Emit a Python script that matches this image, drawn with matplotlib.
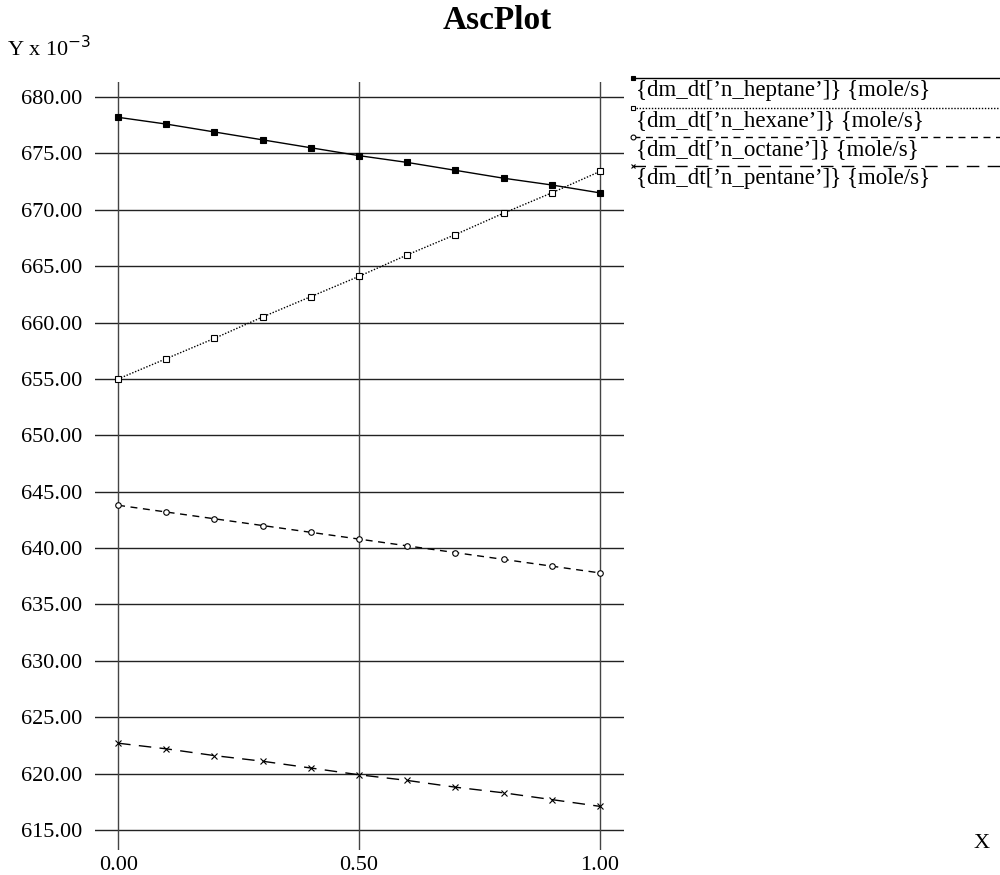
import matplotlib
matplotlib.use("Agg")
import matplotlib.pyplot as plt
from matplotlib.lines import Line2D

plt.rcParams['font.family'] = ['Liberation Serif', 'DejaVu Serif']

x = [0.0, 0.1, 0.2, 0.3, 0.4, 0.5, 0.6, 0.7, 0.8, 0.9, 1.0]
heptane = [678.2, 677.6, 676.9, 676.2, 675.5, 674.8, 674.2, 673.5, 672.8, 672.2, 671.5]
hexane = [655.0, 656.8, 658.6, 660.5, 662.3, 664.1, 666.0, 667.8, 669.7, 671.5, 673.4]
octane = [643.8, 643.2, 642.6, 642.0, 641.4, 640.8, 640.2, 639.6, 639.0, 638.4, 637.8]
pentane = [622.7, 622.2, 621.6, 621.1, 620.5, 619.9, 619.4, 618.8, 618.3, 617.7, 617.1]
names = ["{dm_dt[\u2019n_heptane\u2019]} {mole/s}", "{dm_dt[\u2019n_hexane\u2019]} {mole/s}",
         "{dm_dt[\u2019n_octane\u2019]} {mole/s}", "{dm_dt[\u2019n_pentane\u2019]} {mole/s}"]
xticks = [0.0, 0.5, 1.0]
xticklabels = ["0.00", "0.50", "1.00"]
yticks = [615, 620, 625, 630, 635, 640, 645, 650, 655, 660, 665, 670, 675, 680]

fig = plt.figure(figsize=(10, 8.75), dpi=100)
ax = fig.add_axes([0.095, 0.02857, 0.529, 0.8777])
ax.set_xlim(-0.048, 1.05)
ax.set_ylim(613.23, 681.33)
for s in ax.spines.values():
    s.set_visible(False)
for yv in yticks:
    ax.axhline(yv, color='#222222', lw=1.0, zorder=1)
for xv in xticks:
    ax.axvline(xv, color='#444444', lw=1.0, zorder=1)
ax.set_xticks(xticks)
ax.set_xticklabels(xticklabels)
ax.set_yticks(yticks)
ax.set_yticklabels([f"{v:.2f}" for v in yticks])
ax.tick_params(axis='both', length=0, labelsize=16)
ax.tick_params(axis='y', pad=9.5)
ax.tick_params(axis='x', pad=4)

styles = [
    dict(ls='-', marker='s', ms=4, mfc='black'),
    dict(ls=(0, (1, 1.2)), marker='s', ms=4, mfc='white'),
    dict(ls=(0, (5, 4)), marker='o', ms=4, mfc='white'),
    dict(ls=(0, (9, 6)), marker='x', ms=4, mfc='white'),
]
series = [heptane, hexane, octane, pentane]
for ys, st in zip(series, styles):
    ax.plot(x, ys, color='black', lw=1.0, mec='black', mew=0.8, zorder=3, **st)

fig.text(0.497, 0.977, "AscPlot", ha='center', va='center', fontsize=24, fontweight='bold')
fig.text(0.007, 0.944, r"Y x 10$^{-3}$", ha='left', va='center', fontsize=16)
fig.text(0.99, 0.036, "X", ha='right', va='center', fontsize=16)

leg_y = [78, 108, 137, 166]
for name, st, ly in zip(names, styles, leg_y):
    yf = 1 - ly / 875
    fig.add_artist(Line2D([0.633, 1.0], [yf, yf], transform=fig.transFigure, color='black',
                          lw=1.0, ls=st['ls']))
    fig.add_artist(Line2D([0.633], [yf], transform=fig.transFigure, color='black',
                          marker=st['marker'], ms=3.5, mfc=st['mfc'], mec='black', mew=0.8))
    fig.text(0.636, yf - 0.002, name, ha='left', va='top', fontsize=16.5)

fig.savefig("out.png", dpi=100)
